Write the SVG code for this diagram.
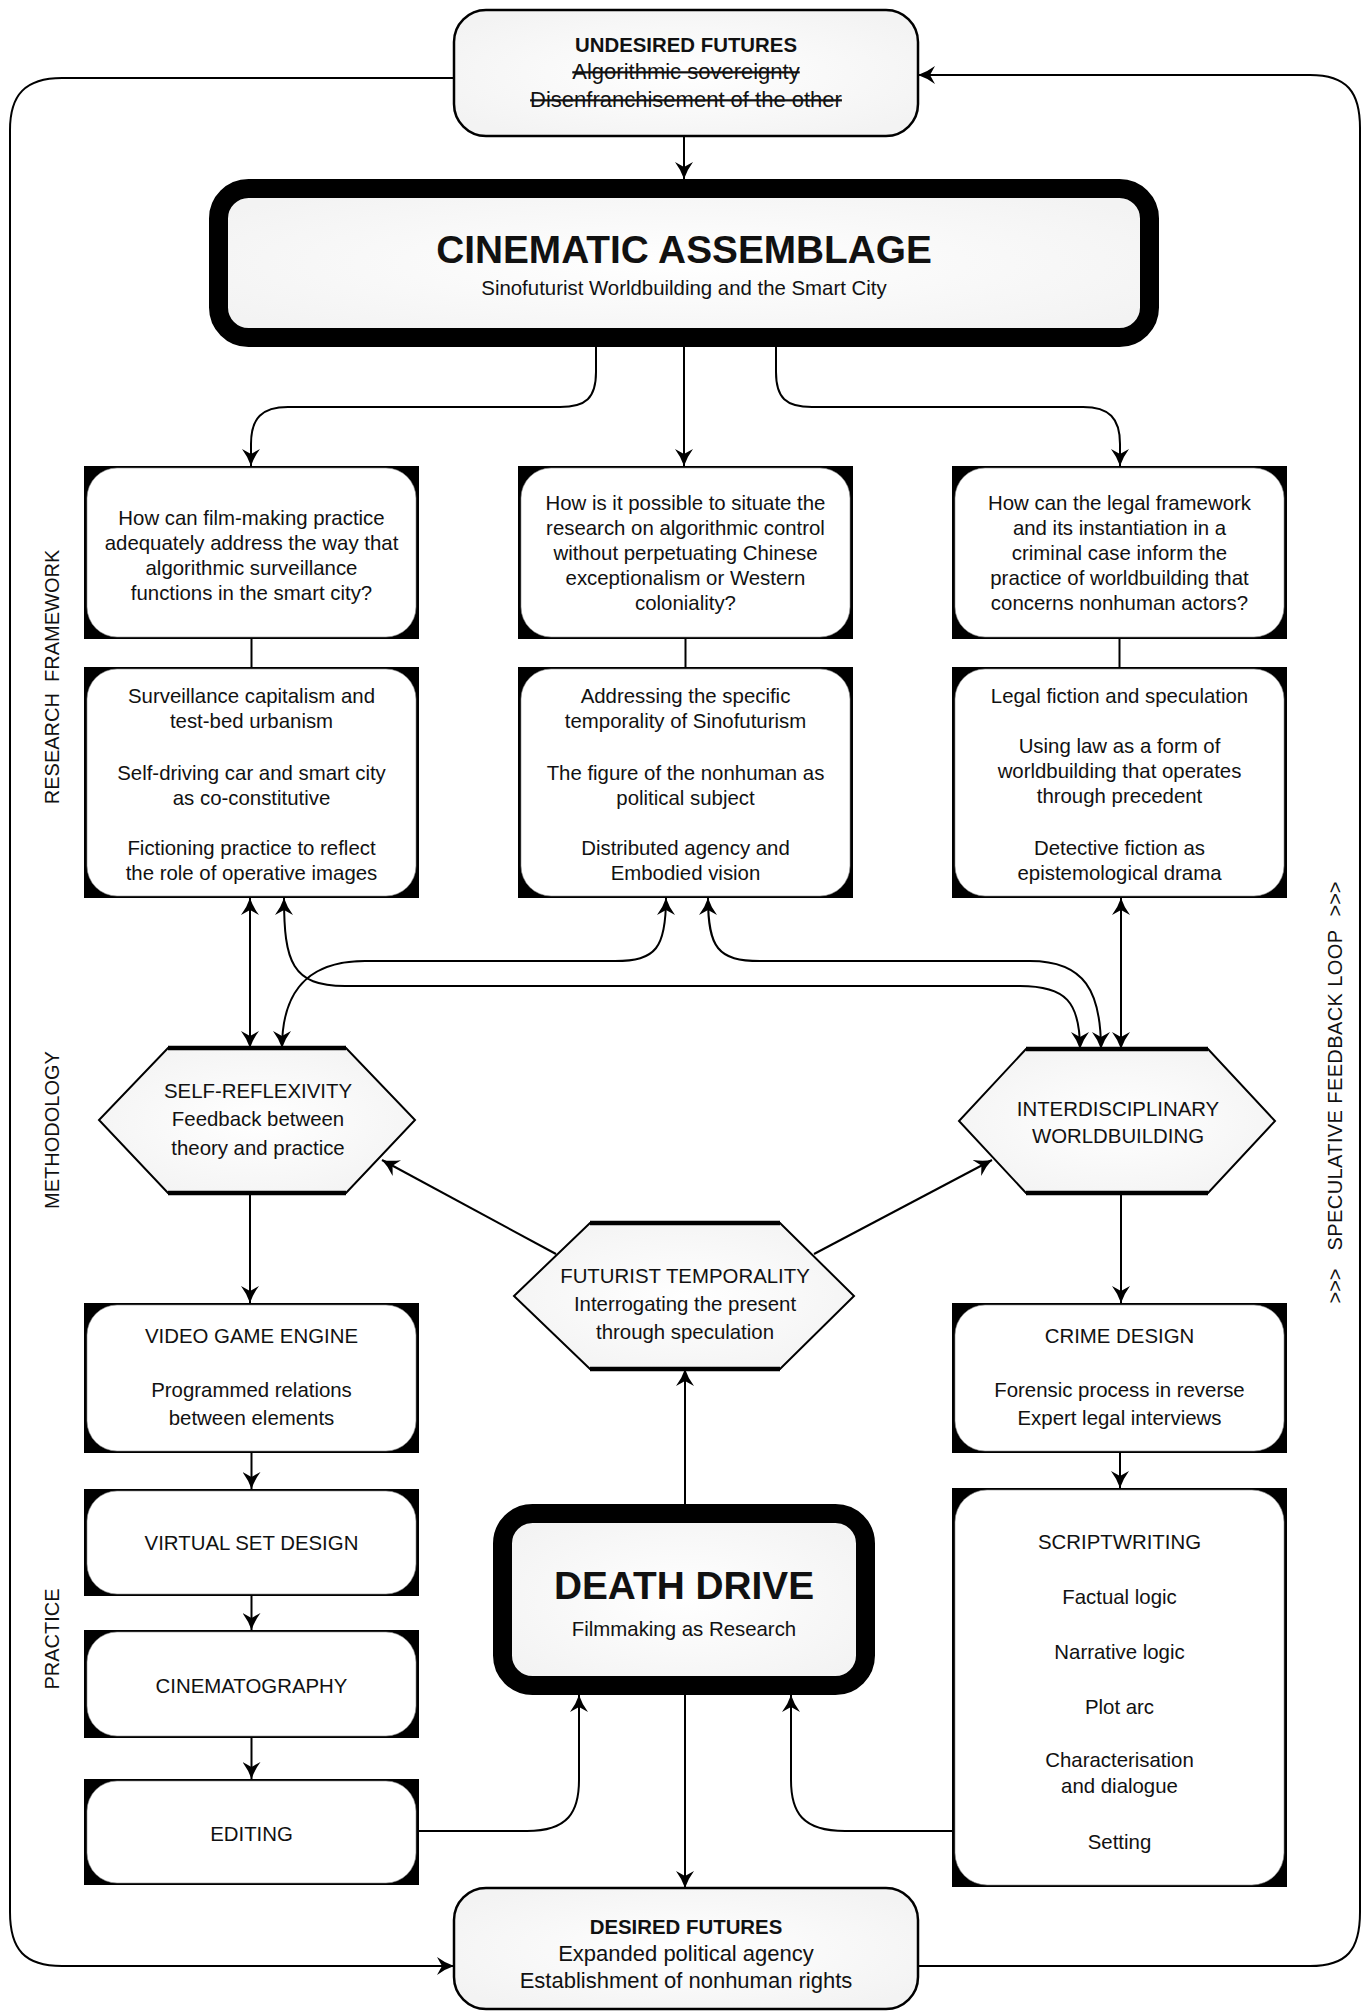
<svg xmlns="http://www.w3.org/2000/svg" width="1372" height="2011" viewBox="0 0 1372 2011">
<style>
text{font-family:"Liberation Sans",Arial,sans-serif;fill:#111;text-anchor:middle}
.t{font-size:20.4px}
.b{font-size:20.4px;font-weight:bold}
.f{font-size:22px}
.s{text-decoration:line-through}
.big{font-size:38.8px;font-weight:bold}
.lab{font-size:20px}
.out{fill:#000}
.in{fill:#fff;stroke:#888;stroke-width:0.6}
.fut{fill:url(#g);stroke:#000;stroke-width:2.5}
.thick{fill:url(#g);stroke:#000;stroke-width:19}
.hex{fill:url(#g);stroke:#000;stroke-width:2}
.hbar{stroke:#000;stroke-width:4.5}
.c{fill:none;stroke:#000;stroke-width:2}
.e{marker-end:url(#ah)}
.d{marker-start:url(#ah);marker-end:url(#ah)}
</style>
<defs>
<radialGradient id="g" cx="50%" cy="50%" r="60%">
<stop offset="0" stop-color="#ffffff"/>
<stop offset="1" stop-color="#f3f3f3"/>
</radialGradient>
<marker id="ah" markerUnits="userSpaceOnUse" markerWidth="18" markerHeight="18" refX="17" refY="9" orient="auto-start-reverse" viewBox="0 0 18 18">
<path d="M0,0 Q8,6 17,9 Q8,12 0,18 L5,9 Z" fill="#000"/>
</marker>
</defs>
<rect width="1372" height="2011" fill="#fff"/>

<g id="labels">
<text class="lab" transform="translate(59,677) rotate(-90)" xml:space="preserve">RESEARCH  FRAMEWORK</text>
<text class="lab" transform="translate(59,1130) rotate(-90)">METHODOLOGY</text>
<text class="lab" transform="translate(59,1639) rotate(-90)">PRACTICE</text>
<text class="lab" transform="translate(1342,1286) rotate(-90)">&gt;&gt;&gt;</text>
<text class="lab" transform="translate(1342,1090) rotate(-90)" style="letter-spacing:0.4px">SPECULATIVE FEEDBACK LOOP</text>
<text class="lab" transform="translate(1342,899) rotate(-90)">&gt;&gt;&gt;</text>
</g>

<g id="undesired">
<rect class="fut" x="454" y="10" width="464" height="126" rx="32"/>
<text class="b" x="686" y="52">UNDESIRED FUTURES</text>
<text class="f s" x="686" y="79">Algorithmic sovereignty</text>
<text class="f s" x="686" y="107">Disenfranchisement of the other</text>
</g>

<g id="cinematic">
<rect class="thick" x="218.5" y="188.5" width="931" height="149" rx="30"/>
<text class="big" x="684" y="263">CINEMATIC ASSEMBLAGE</text>
<text class="t" x="684" y="295">Sinofuturist Worldbuilding and the Smart City</text>
</g>

<g id="q1">
<rect class="out" x="84" y="466" width="335" height="173"/>
<rect class="in" x="87" y="468" width="329" height="169" rx="30"/>
<text class="t" x="251.5" y="525">How can film-making practice</text>
<text class="t" x="251.5" y="550">adequately address the way that</text>
<text class="t" x="251.5" y="575">algorithmic surveillance</text>
<text class="t" x="251.5" y="600">functions in the smart city?</text>
</g>
<g id="q2">
<rect class="out" x="518" y="466" width="335" height="173"/>
<rect class="in" x="521" y="468" width="329" height="169" rx="30"/>
<text class="t" x="685.5" y="510">How is it possible to situate the</text>
<text class="t" x="685.5" y="535">research on algorithmic control</text>
<text class="t" x="685.5" y="560">without perpetuating Chinese</text>
<text class="t" x="685.5" y="585">exceptionalism or Western</text>
<text class="t" x="685.5" y="610">coloniality?</text>
</g>
<g id="q3">
<rect class="out" x="952" y="466" width="335" height="173"/>
<rect class="in" x="955" y="468" width="329" height="169" rx="30"/>
<text class="t" x="1119.5" y="510">How can the legal framework</text>
<text class="t" x="1119.5" y="535">and its instantiation in a</text>
<text class="t" x="1119.5" y="560">criminal case inform the</text>
<text class="t" x="1119.5" y="585">practice of worldbuilding that</text>
<text class="t" x="1119.5" y="610">concerns nonhuman actors?</text>
</g>

<g id="r1">
<rect class="out" x="84" y="667" width="335" height="231"/>
<rect class="in" x="87" y="669" width="329" height="227" rx="30"/>
<text class="t" x="251.5" y="703">Surveillance capitalism and</text>
<text class="t" x="251.5" y="728">test-bed urbanism</text>
<text class="t" x="251.5" y="780">Self-driving car and smart city</text>
<text class="t" x="251.5" y="805">as co-constitutive</text>
<text class="t" x="251.5" y="855">Fictioning practice to reflect</text>
<text class="t" x="251.5" y="880">the role of operative images</text>
</g>
<g id="r2">
<rect class="out" x="518" y="667" width="335" height="231"/>
<rect class="in" x="521" y="669" width="329" height="227" rx="30"/>
<text class="t" x="685.5" y="703">Addressing the specific</text>
<text class="t" x="685.5" y="728">temporality of Sinofuturism</text>
<text class="t" x="685.5" y="780">The figure of the nonhuman as</text>
<text class="t" x="685.5" y="805">political subject</text>
<text class="t" x="685.5" y="855">Distributed agency and</text>
<text class="t" x="685.5" y="880">Embodied vision</text>
</g>
<g id="r3">
<rect class="out" x="952" y="667" width="335" height="231"/>
<rect class="in" x="955" y="669" width="329" height="227" rx="30"/>
<text class="t" x="1119.5" y="703">Legal fiction and speculation</text>
<text class="t" x="1119.5" y="753">Using law as a form of</text>
<text class="t" x="1119.5" y="778">worldbuilding that operates</text>
<text class="t" x="1119.5" y="803">through precedent</text>
<text class="t" x="1119.5" y="855">Detective fiction as</text>
<text class="t" x="1119.5" y="880">epistemological drama</text>
</g>

<g id="selfreflexivity">
<polygon class="hex" points="168,1048 346,1048 415,1120 346,1193 168,1193 99,1120"/>
<line class="hbar" x1="168" y1="1048" x2="346" y2="1048"/>
<line class="hbar" x1="168" y1="1193" x2="346" y2="1193"/>
<text class="t" x="258" y="1098">SELF-REFLEXIVITY</text>
<text class="t" x="258" y="1126">Feedback between</text>
<text class="t" x="258" y="1155">theory and practice</text>
</g>
<g id="interdisciplinary">
<polygon class="hex" points="1026,1049 1208,1049 1275,1121 1208,1193 1026,1193 959,1121"/>
<line class="hbar" x1="1026" y1="1049" x2="1208" y2="1049"/>
<line class="hbar" x1="1026" y1="1193" x2="1208" y2="1193"/>
<text class="t" x="1118" y="1116">INTERDISCIPLINARY</text>
<text class="t" x="1118" y="1143">WORLDBUILDING</text>
</g>
<g id="futurist">
<polygon class="hex" points="590,1223 780,1223 854,1296 780,1369 590,1369 514,1296"/>
<line class="hbar" x1="590" y1="1223" x2="780" y2="1223"/>
<line class="hbar" x1="590" y1="1369" x2="780" y2="1369"/>
<text class="t" x="685" y="1283">FUTURIST TEMPORALITY</text>
<text class="t" x="685" y="1311">Interrogating the present</text>
<text class="t" x="685" y="1339">through speculation</text>
</g>

<g id="videogame">
<rect class="out" x="84" y="1303" width="335" height="150"/>
<rect class="in" x="87" y="1305" width="329" height="146" rx="30"/>
<text class="t" x="251.5" y="1343">VIDEO GAME ENGINE</text>
<text class="t" x="251.5" y="1397">Programmed relations</text>
<text class="t" x="251.5" y="1425">between elements</text>
</g>
<g id="virtualset">
<rect class="out" x="84" y="1489" width="335" height="107"/>
<rect class="in" x="87" y="1491" width="329" height="103" rx="30"/>
<text class="t" x="251.5" y="1550">VIRTUAL SET DESIGN</text>
</g>
<g id="cinematography">
<rect class="out" x="84" y="1630" width="335" height="108"/>
<rect class="in" x="87" y="1632" width="329" height="104" rx="30"/>
<text class="t" x="251.5" y="1693">CINEMATOGRAPHY</text>
</g>
<g id="editing">
<rect class="out" x="84" y="1779" width="335" height="106"/>
<rect class="in" x="87" y="1781" width="329" height="102" rx="30"/>
<text class="t" x="251.5" y="1841">EDITING</text>
</g>
<g id="crimedesign">
<rect class="out" x="952" y="1303" width="335" height="150"/>
<rect class="in" x="955" y="1305" width="329" height="146" rx="30"/>
<text class="t" x="1119.5" y="1343">CRIME DESIGN</text>
<text class="t" x="1119.5" y="1397">Forensic process in reverse</text>
<text class="t" x="1119.5" y="1425">Expert legal interviews</text>
</g>
<g id="scriptwriting">
<rect class="out" x="952" y="1488" width="335" height="399"/>
<rect class="in" x="955" y="1490" width="329" height="395" rx="32"/>
<text class="t" x="1119.5" y="1549">SCRIPTWRITING</text>
<text class="t" x="1119.5" y="1604">Factual logic</text>
<text class="t" x="1119.5" y="1659">Narrative logic</text>
<text class="t" x="1119.5" y="1714">Plot arc</text>
<text class="t" x="1119.5" y="1767">Characterisation</text>
<text class="t" x="1119.5" y="1793">and dialogue</text>
<text class="t" x="1119.5" y="1849">Setting</text>
</g>

<g id="deathdrive">
<rect class="thick" x="502.5" y="1513.5" width="363" height="172" rx="30"/>
<text class="big" x="684" y="1599">DEATH DRIVE</text>
<text class="t" x="684" y="1636">Filmmaking as Research</text>
</g>

<g id="desired">
<rect class="fut" x="454" y="1888" width="464" height="121" rx="32"/>
<text class="b" x="686" y="1934">DESIRED FUTURES</text>
<text class="f" x="686" y="1961">Expanded political agency</text>
<text class="f" x="686" y="1988">Establishment of nonhuman rights</text>
</g>

<g id="connectors">
<path class="c e" d="M684,136 L684,179"/>
<path class="c e" d="M596,347 L596,372 C596,398 586,407 560,407 L288,407 C262,407 251,418 251,444 L251,466"/>
<path class="c e" d="M684,347 L684,466"/>
<path class="c e" d="M776,347 L776,372 C776,398 786,407 812,407 L1083,407 C1109,407 1120,418 1120,444 L1120,466"/>
<path class="c" d="M251.5,639 L251.5,667"/>
<path class="c" d="M685.5,639 L685.5,667"/>
<path class="c" d="M1119.5,639 L1119.5,667"/>
<path class="c d" d="M250,898 L250,1048"/>
<path class="c d" d="M284,898 C284,962 292,986 345,986 L1020,986 C1066,986 1080,1002 1080,1049"/>
<path class="c d" d="M666,898 C666,948 656,961 615,961 L365,961 C300,961 282,1000 282,1048"/>
<path class="c d" d="M708,898 C708,948 718,961 760,961 L1030,961 C1085,961 1101,992 1101,1049"/>
<path class="c d" d="M1121,898 L1121,1049"/>
<path class="c e" d="M556,1254 L382,1160"/>
<path class="c e" d="M814,1254 L992,1160"/>
<path class="c e" d="M250,1193 L250,1303"/>
<path class="c e" d="M251.5,1453 L251.5,1489"/>
<path class="c e" d="M251.5,1596 L251.5,1630"/>
<path class="c e" d="M251.5,1738 L251.5,1779"/>
<path class="c e" d="M1121,1193 L1121,1303"/>
<path class="c e" d="M1120,1453 L1120,1488"/>
<path class="c e" d="M419,1831 L527,1831 C568,1831 579,1812 579,1780 L579,1695"/>
<path class="c e" d="M952,1831 L845,1831 C802,1831 791,1812 791,1780 L791,1695"/>
<path class="c e" d="M685,1504 L685,1369"/>
<path class="c e" d="M685,1695 L685,1888"/>
<path class="c e" d="M454,78 L62,78 C25,78 10,95 10,130 L10,1912 C10,1950 25,1966 62,1966 L454,1966"/>
<path class="c e" d="M918,1966 L1310,1966 C1347,1966 1360,1950 1360,1912 L1360,128 C1360,92 1347,75 1310,75 L918,75"/>
</g>
</svg>
